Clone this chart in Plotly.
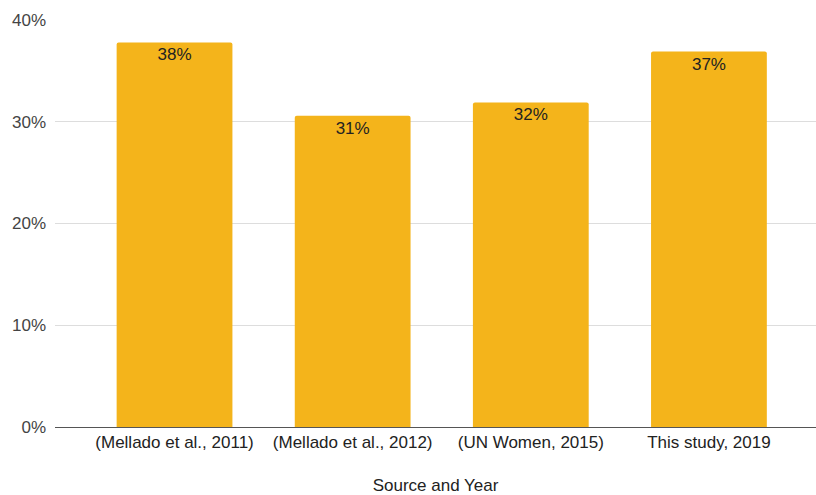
import plotly.graph_objects as go

# Share of respondents reported by each source
sources = ["(Mellado et al., 2011)", "(Mellado et al., 2012)", "(UN Women, 2015)", "This study, 2019"]
shares = [0.378, 0.306, 0.319, 0.369]
y_ticks = [0, 0.1, 0.2, 0.3, 0.4]

BAR_COLOR = "#F4B41B"
FONT = "Liberation Sans, Arial, sans-serif"
SIZE = 17

fig = go.Figure(
    go.Bar(
        x=list(range(len(sources))),
        y=shares,
        width=0.65,
        marker=dict(color=BAR_COLOR, line=dict(width=0), cornerradius=2),
        text=shares,
        texttemplate="%{y:.0%}",
        textposition="inside",
        insidetextanchor="end",
        textfont=dict(family=FONT, size=SIZE, color="#222222"),
        hoverinfo="skip",
    )
)

fig.update_layout(
    width=816,
    height=495,
    margin=dict(l=55, r=0, t=20, b=68),
    paper_bgcolor="white",
    plot_bgcolor="white",
    showlegend=False,
    font=dict(family=FONT, size=SIZE, color="#444444"),
    xaxis=dict(
        range=[-0.671, 3.601],
        tickmode="array",
        tickvals=list(range(len(sources))),
        ticktext=sources,
        showgrid=False,
        zeroline=False,
        showline=True,
        linecolor="#555555",
        linewidth=1,
        ticks="",
        tickfont=dict(family=FONT, size=SIZE, color="#222222"),
        title=dict(text="Source and Year", font=dict(family=FONT, size=SIZE, color="#222222"), standoff=30),
        fixedrange=True,
    ),
    yaxis=dict(
        range=[0, 0.4],
        tickmode="array",
        tickvals=y_ticks,
        tickformat=".0%",
        showgrid=True,
        gridcolor="#DDDDDD",
        gridwidth=1,
        zeroline=False,
        showline=False,
        ticks="",
        ticklabelstandoff=8,
        tickfont=dict(family=FONT, size=SIZE, color="#444444"),
        fixedrange=True,
    ),
)

fig.write_html("out.html")
